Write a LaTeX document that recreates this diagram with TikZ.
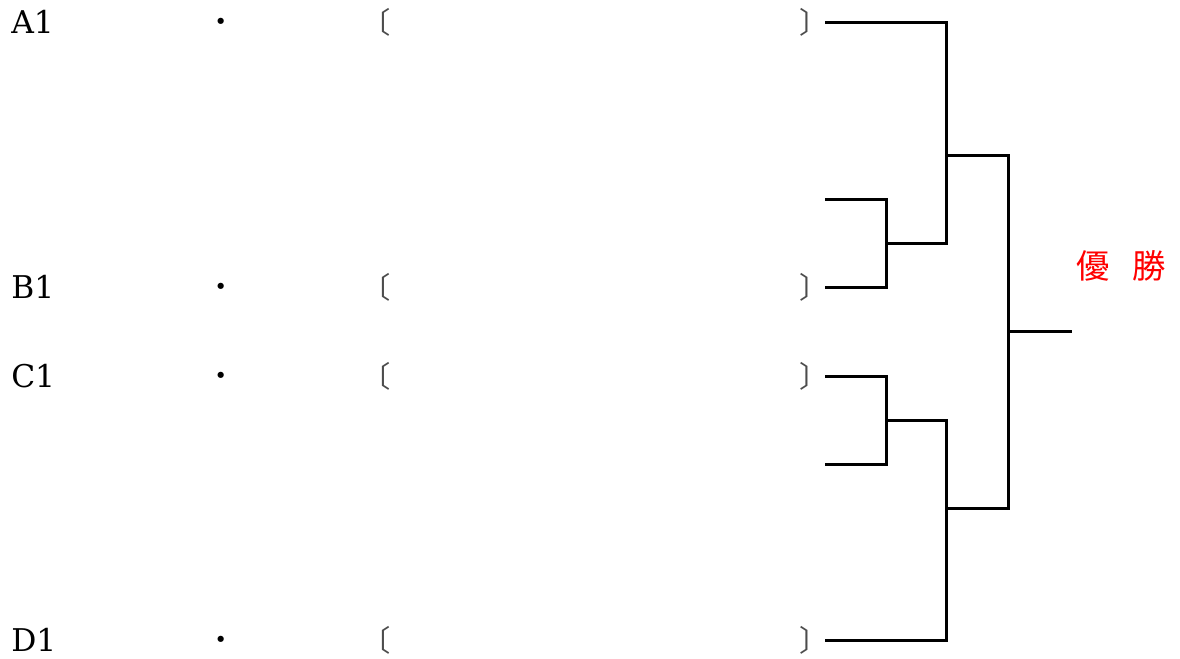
\documentclass[tikz,border=0pt]{standalone}
\usepackage{fontspec}
\setmainfont{DejaVu Serif}
\newfontfamily\cjk{Noto Sans CJK JP}
\begin{document}
\begin{tikzpicture}[x=0.75pt,y=-0.75pt,
  lbl/.style={font=\fontsize{23.5}{23.5}\selectfont, anchor=base west, inner sep=0pt},
  dotm/.style={font=\cjk\fontsize{22}{22}\selectfont, inner sep=0pt},
  brk/.style={font=\cjk\fontsize{22}{22}\selectfont, inner sep=0pt, text=black!70},
  win/.style={font=\cjk\fontsize{25}{25}\selectfont, text=red, inner sep=0pt},
  line/.style={line width=2.25pt, line cap=rect}]
\useasboundingbox (0,0) rectangle (1180,658);
% labels
\foreach \n/\y in {A1/22,B1/287,C1/376,D1/640}{
  \node[lbl] (l\n) at (11,\y+11) {\n};
  \node[dotm] (d\n) at (221,\y+3) {・};
  \node[brk] (o\n) at (376,\y) {〔};
  \node[brk] (c\n) at (814,\y) {〕};
}
% bracket coordinates
\coordinate (a) at (826,22);
\coordinate (b0) at (826,199);
\coordinate (b) at (826,287);
\coordinate (c) at (826,376);
\coordinate (c0) at (826,464);
\coordinate (d) at (826,640);
\coordinate (m1) at (886,243);
\coordinate (m2) at (886,420);
\coordinate (s1) at (946,155);
\coordinate (s2) at (946,508);
\coordinate (f) at (1008,331);
\coordinate (w) at (1070,331);
\draw[line] (b0) -| (m1) |- (b);
\draw[line] (c) -| (m2) |- (c0);
\draw[line] (a) -| (s1) |- (m1);
\draw[line] (m2) -| (s2) |- (d);
\draw[line] (s1) -| (f) |- (s2);
\draw[line] (f) -- (w);
\node[win] (yu) at (1093,266) {優};
\node[win] (sho) at (1149,266) {勝};
\end{tikzpicture}
\end{document}
